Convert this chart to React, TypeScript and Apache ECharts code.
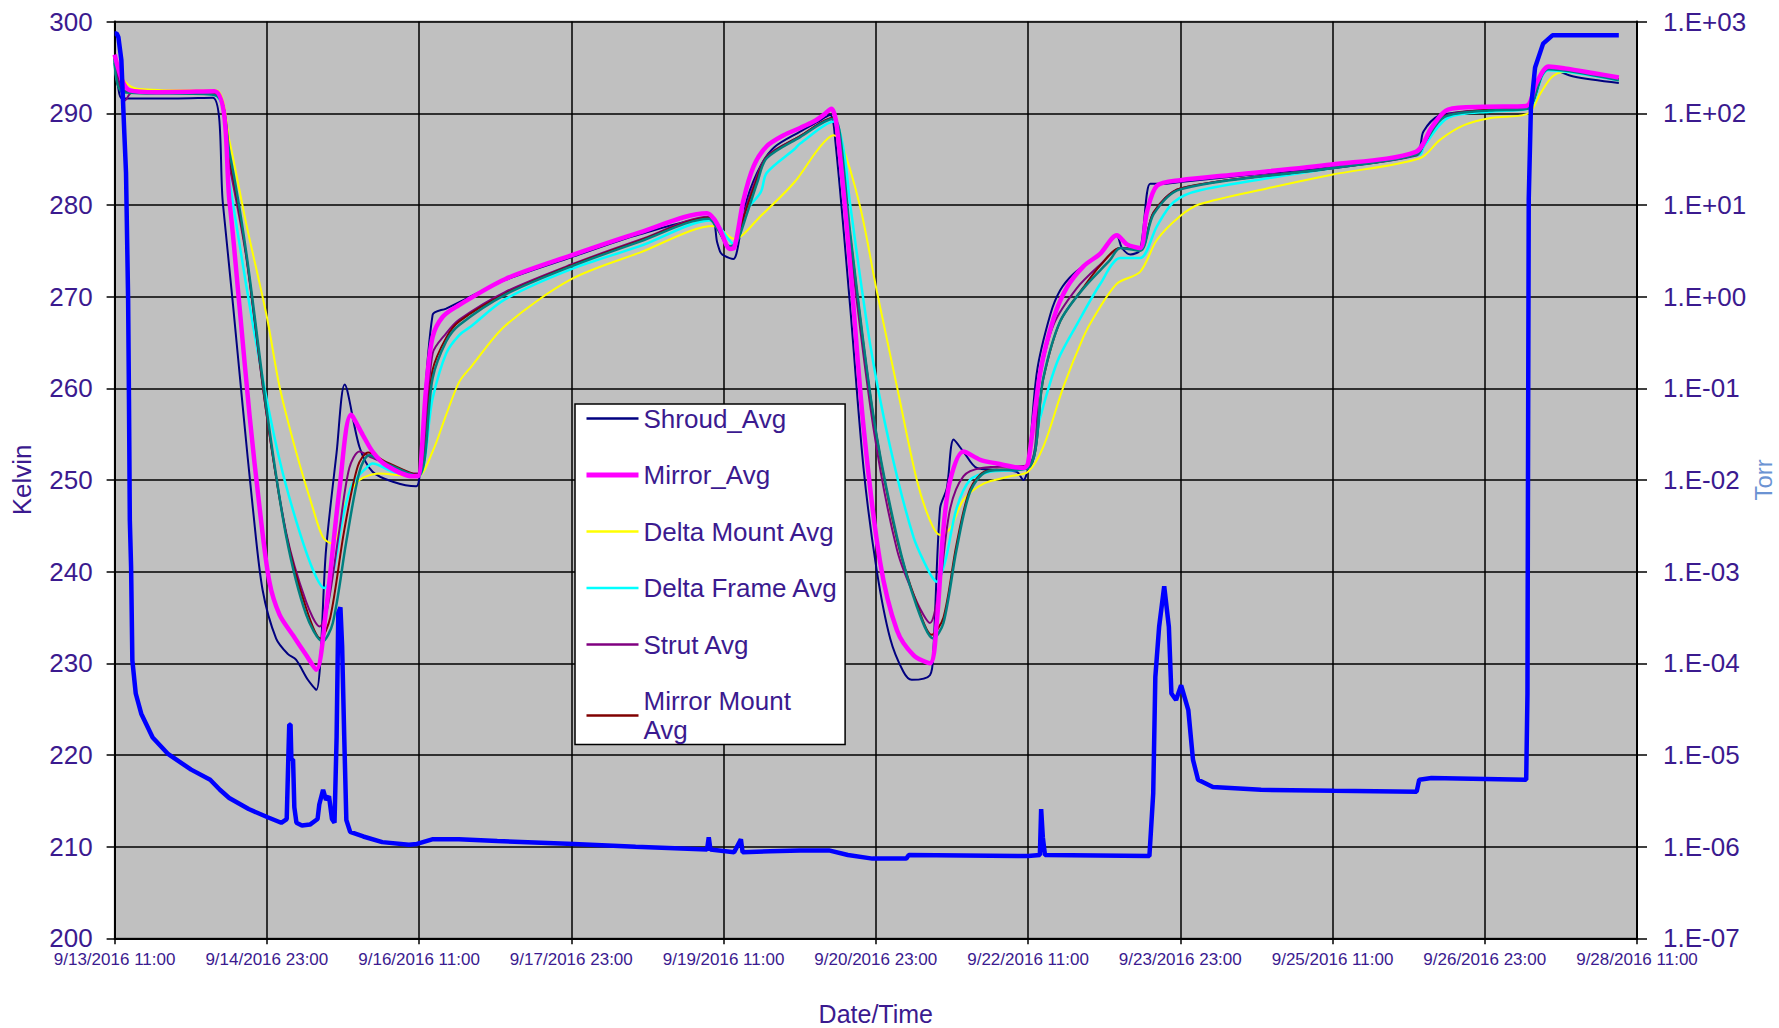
import React, { useEffect, useRef } from 'react';
import * as echarts from 'echarts';

// Hours since 9/13/2016 11:00
const xTickLabels = [
  '9/13/2016 11:00', '9/14/2016 23:00', '9/16/2016 11:00', '9/17/2016 23:00',
  '9/19/2016 11:00', '9/20/2016 23:00', '9/22/2016 11:00', '9/23/2016 23:00',
  '9/25/2016 11:00', '9/26/2016 23:00', '9/28/2016 11:00',
];
const torrTickLabels = [
  '1.E-07', '1.E-06', '1.E-05', '1.E-04', '1.E-03', '1.E-02',
  '1.E-01', '1.E+00', '1.E+01', '1.E+02', '1.E+03',
];
const legendNames = ['Shroud_Avg', 'Mirror_Avg', 'Delta Mount Avg', 'Delta Frame Avg', 'Strut Avg', 'Mirror Mount Avg'];

const shroudAvg = [
  [0, 295.5], [0.8, 293], [1.8, 291.6], [10, 291.6], [23.2, 291.7], [25.6, 280.2], [28, 269.1], [30.3, 258],
  [32.7, 246.9], [35, 238], [38.2, 232.7], [41, 231], [42.9, 230.4], [45.7, 228.2], [47.7, 227.1], [50, 242.4],
  [52.5, 253], [54.4, 260.4], [57.9, 253.6], [61, 250.9], [65.8, 249.8], [71.3, 249.3], [72.1, 250.4], [75.2, 268],
  [78.4, 268.7], [81.5, 269.4], [92.3, 271.8], [108, 274.3], [124.2, 276.8], [140.9, 278.6], [142.5, 275.9],
  [143.3, 274.8], [144, 274.5], [146.3, 274.1], [148, 277], [149.6, 280.7], [152.8, 284.3], [156, 286.3],
  [162.1, 288], [166, 289], [169.2, 289.8], [170.4, 287.1], [173.9, 269.1], [177.1, 251.3], [180.2, 240.2],
  [183.4, 232.7], [186.5, 229.1], [188.5, 228.2], [192.8, 228.7], [193.6, 231.3], [195.2, 246.9], [196.8, 249.1],
  [198.4, 254.4], [200.7, 253.1], [203.9, 251.3], [208.6, 251.1], [213.3, 250.9], [214.9, 250], [216, 251.3],
  [218.1, 261.8], [221.3, 268.1], [223.6, 270.7], [226.8, 272.5], [233.1, 274.7], [237, 276.6], [238.2, 275.3],
  [240.2, 274.6], [242.5, 275.1], [244.9, 282.3], [247.3, 282.3], [252, 282.5], [264.6, 283.1], [287.8, 284.2],
  [307.9, 285.7], [309.5, 288], [313, 289.7], [320, 290.2], [333.8, 290.6], [336.2, 293], [339.1, 294.9],
  [345, 294], [355.7, 293.3],
];
const mirrorAvg = [
  [0, 296.4], [1.8, 293.6], [3.6, 292.5], [10, 292.3], [23.6, 292.4], [27.2, 280.2], [29.5, 269.1], [31.9, 257.1],
  [34.3, 246.9], [36.6, 238.9], [39, 235.3], [42.1, 233.1], [45.3, 230.9], [47.7, 229.3], [50, 235.8], [53.2, 249.1],
  [55.9, 257.1], [58.7, 254.9], [61, 253.1], [64.2, 251.6], [70.5, 250.4], [71.7, 250.4], [73.7, 260.2], [75.2, 265.6],
  [77.6, 267.8], [81.2, 269], [92.3, 271.9], [108, 274.5], [124.2, 277], [140.1, 279.1], [141.7, 278.5],
  [143.2, 277.3], [145.5, 275.2], [146.5, 275.3], [148.7, 280.5], [151.1, 284.2], [154.2, 286.4], [158.2, 287.6],
  [162.1, 288.4], [165.3, 289.1], [167.6, 289.8], [169.5, 290.5], [170.8, 288.5], [173.9, 273.6], [177.1, 255.8],
  [181, 241.1], [185, 233.6], [188.9, 230.9], [192.8, 230], [194.4, 234.4], [196, 244.7], [197.6, 250],
  [200.7, 253.1], [204.7, 252.2], [208.6, 251.8], [214.9, 251.3], [216, 251.8], [218.9, 261.8], [222.1, 267.7],
  [225.2, 271], [229.1, 273.3], [233.1, 274.7], [237, 276.7], [239.4, 275.7], [242.5, 275.3], [244.1, 279.2],
  [246.5, 282.1], [252, 282.7], [264.6, 283.3], [287.8, 284.4], [307.7, 285.8], [311.5, 288.5], [315.3, 290.4],
  [323.8, 290.7], [333.8, 290.8], [336.2, 293.3], [339.1, 295.1], [342.9, 294.9], [349.5, 294.4], [355.7, 293.9],
];
const deltaMountAvg = [
  [0, 296], [1.8, 293.8], [5, 292.7], [15, 292.5], [24, 292.5], [27.2, 286.9], [31.1, 278], [36, 267.8],
  [39, 260.2], [42.9, 253.1], [46.9, 246.9], [49.2, 243.8], [51.2, 243.1], [52.8, 244], [54.8, 247.8], [57.9, 250],
  [62.6, 250.7], [67.4, 250.5], [71.7, 250.4], [75.2, 253.1], [78.4, 257.1], [81.5, 260.7], [84.4, 262.4],
  [92.3, 266.8], [108, 271.9], [124.2, 274.8], [141.7, 277.7], [146.5, 276.3], [152.8, 278.8], [160.8, 282.5],
  [166.4, 286.1], [170, 287.6], [171.6, 287.1], [176.3, 279.8], [180.2, 270.7], [185, 260.2], [189.7, 250],
  [192.8, 245.6], [195.2, 244], [197.6, 244.7], [200.7, 247.8], [205.5, 249.6], [211.8, 250.4], [216, 250.9],
  [219.6, 253.6], [224.4, 260.2], [229.1, 265.6], [231.5, 267.7], [237, 271.4], [242.5, 272.7], [246.5, 276.2],
  [252, 278.8], [256.7, 280.1], [272.5, 281.8], [287.8, 283.3], [308.7, 285.1], [313.4, 287.1], [319.1, 288.7],
  [325.7, 289.5], [334.3, 290], [337.2, 292.2], [340, 294], [342.9, 294.5], [355.7, 293.6],
];
const deltaFrameAvg = [
  [0, 296], [2, 292.5], [23.6, 292], [27.2, 282.4], [31.1, 271.3], [35, 261.1], [39, 252.2], [42.9, 245.6],
  [46.9, 240.2], [49.6, 238.2], [51.6, 239.8], [54, 246], [56.3, 249.6], [59.5, 251.3], [61, 251.8], [65.8, 250.9],
  [71.7, 250.4], [75.2, 258.9], [78.4, 263.8], [81.5, 265.8], [84.4, 266.8], [92.3, 269.7], [108, 273],
  [124.2, 275.5], [140.9, 278.3], [146.5, 275.7], [148.7, 279], [152.8, 281.4], [154.2, 283.5], [160.8, 286.1],
  [162.1, 286.7], [170, 289.1], [172.4, 286], [173.9, 280.2], [178.7, 264.7], [183.4, 253.6], [188.9, 243.8],
  [192.8, 239.8], [194.4, 238.9], [196.4, 241.1], [199.1, 246.9], [202.3, 250], [207, 250.9], [216, 251.3],
  [218.8, 256.7], [223, 263], [227.6, 267], [233.1, 271.4], [237.8, 274.2], [242.5, 274.2], [246.5, 277.7],
  [250.4, 280.3], [256.7, 281.6], [287.8, 284], [308.7, 285.5], [309.6, 286.4], [315.3, 289.5], [325.7, 290.2],
  [334.3, 290.5], [339.1, 294.7], [355.7, 293.6],
];
const strutAvg = [
  [0, 296], [1.5, 292.5], [2.5, 291.4], [4, 292.2], [23.6, 292.2], [27.2, 284.2], [31.1, 274.4], [35.8, 257.6],
  [40.6, 244.2], [45.3, 236.7], [48.5, 234], [50.4, 236.2], [53.2, 244.7], [55.5, 251.3], [57.9, 253.1], [61, 252.4],
  [70.5, 250.7], [72.1, 250.7], [75.2, 263.8], [78.4, 266], [81.5, 267.5], [92.3, 270.5], [108, 273.5],
  [124.2, 276.2], [140.5, 278.7], [142, 278], [145.5, 275.3], [146.5, 275.4], [148.5, 278.5], [151, 282],
  [154.2, 285.3], [162.1, 287.5], [170, 289.5], [171, 288.5], [173.9, 275.8], [179.4, 255.8], [185, 242.4],
  [189.7, 236.7], [192.8, 234.4], [195.2, 238.9], [197.6, 246.9], [200.7, 250.4], [205, 251.3], [216, 251.6],
  [218.8, 261.1], [222, 266.9], [227.5, 270.9], [233.1, 273.5], [237.8, 275.3], [242.5, 275.1], [245.7, 279.2],
  [252, 281.8], [287.8, 284], [307.9, 285.4], [309.5, 286.5], [314, 289.6], [325, 290.4], [334, 290.5],
  [339.1, 294.9], [355.7, 293.7],
];
const mirrorMountAvg = [
  [0, 296], [2, 292.4], [23.6, 292.2], [27.2, 285], [31.1, 274.6], [36, 257], [40.6, 244], [45.3, 236],
  [48.7, 232.7], [51, 235], [54.3, 244.5], [57.5, 251.5], [60, 253], [64, 252], [71.7, 250.5], [75.2, 262],
  [78.4, 265.5], [81.5, 267.3], [92.3, 270.3], [108, 273.4], [124.2, 276.1], [140.5, 278.6], [142.5, 277.5],
  [145.5, 275.4], [146.8, 275.6], [149, 279], [151.5, 282.3], [154.2, 285.2], [162.1, 287.5], [170, 289.5],
  [171.2, 288], [173.9, 276.8], [179.4, 257], [185, 243.5], [189.7, 236.5], [193.2, 233.1], [196, 235],
  [199.1, 243], [202.3, 249], [206.2, 251], [216, 251.3], [219.6, 261], [223.6, 267.3], [229.1, 271],
  [233.1, 273.4], [237.8, 275.3], [242.5, 275.1], [245.7, 279.2], [252, 281.8], [287.8, 284], [307.9, 285.5],
  [310, 287], [314, 289.6], [325, 290.4], [334, 290.5], [339.1, 294.9], [355.7, 293.7],
];
const tealAvg = [
  [0, 296], [2, 292.3], [23.6, 292], [27.2, 285.6], [31.1, 274.9], [36, 257.5], [40.6, 243.8], [45.3, 235.3],
  [49.2, 232.4], [51.6, 234.4], [54.8, 243.3], [57.9, 250.9], [60.2, 252.7], [64.2, 251.8], [71.7, 250.4],
  [75.2, 261.1], [78.4, 265.1], [81.5, 266.9], [92.3, 270.2], [108, 273.3], [124.2, 276], [140.5, 278.5],
  [142.5, 277.4], [145.5, 275.5], [147, 275.8], [149.5, 279], [152, 282.5], [154.2, 285.1], [162.1, 287.4],
  [170, 289.4], [171.5, 287.8], [173.9, 277.1], [179.4, 257.1], [185, 243.8], [189.7, 236.2], [193.6, 232.7],
  [196, 234.4], [199.1, 242.4], [202.3, 248.7], [206.2, 250.9], [216, 251.3], [219.6, 261.1], [223.6, 267.3],
  [229.1, 270.9], [235.4, 274], [237.8, 275.3], [242.5, 275], [245.7, 279], [252, 281.7], [287.8, 284],
  [307.9, 285.5], [310, 287], [314.5, 289.6], [325, 290.3], [334, 290.5], [339.1, 294.8], [355.7, 293.6],
];
// Chamber pressure, Torr
const pressureTorr = [
  [0, 741], [0.5, 741], [0.9, 676], [1.6, 380], [2.3, 60.3], [2.7, 22.4], [3.2, 0.912], [3.4, 0.0741],
  [3.6, 3.63e-3], [3.9, 1.12e-3], [4.2, 1.07e-4], [5, 4.68e-5], [6.3, 2.82e-5], [9, 1.55e-5], [12.7, 1.02e-5],
  [18.1, 6.92e-6], [22.6, 5.37e-6], [24.9, 4.17e-6], [27.1, 3.39e-6], [31.7, 2.57e-6], [36.2, 2.09e-6],
  [39.4, 1.82e-6], [40.7, 2.0e-6], [41.1, 1.0e-5], [41.3, 2.14e-5], [41.6, 2.14e-5], [41.8, 8.9e-6],
  [42.2, 8.9e-6], [42.5, 2.69e-6], [43, 1.82e-6], [44.3, 1.7e-6], [46.2, 1.74e-6], [48, 2.0e-6], [48.4, 2.88e-6],
  [49.3, 4.17e-6], [50, 3.24e-6], [50.7, 3.55e-6], [51.4, 2.0e-6], [52, 1.82e-6], [52.5, 1.58e-5],
  [52.9, 3.55e-4], [53.4, 4.07e-4], [53.8, 1.55e-4], [54.3, 1.58e-5], [54.8, 1.95e-6], [55.7, 1.45e-6],
  [58.8, 1.29e-6], [63.3, 1.12e-6], [69.6, 1.05e-6], [71.5, 1.07e-6], [75.1, 1.2e-6], [81.4, 1.2e-6],
  [90.5, 1.15e-6], [108.6, 1.07e-6], [123.2, 1.0e-6], [140.1, 9.3e-7], [140.5, 1.26e-6], [140.9, 9.3e-7],
  [146.5, 8.7e-7], [148.1, 1.2e-6], [148.5, 8.7e-7], [155, 8.9e-7], [162.1, 9.1e-7], [168.9, 9.1e-7],
  [173.4, 8.1e-7], [179.2, 7.4e-7], [187.2, 7.4e-7], [187.8, 8.1e-7], [216, 7.9e-7], [218.8, 8.1e-7],
  [219.1, 2.57e-6], [219.5, 1.26e-6], [220, 8.1e-7], [244.7, 7.9e-7], [245.6, 3.8e-6], [246.1, 7.08e-5],
  [247, 2.51e-4], [248.2, 6.92e-4], [249.3, 2.51e-4], [249.9, 4.68e-5], [251, 3.98e-5], [252.2, 5.75e-5],
  [253.9, 3.09e-5], [255, 8.9e-6], [256.2, 5.37e-6], [259.7, 4.47e-6], [271.1, 4.17e-6], [288.4, 4.07e-6],
  [307.9, 3.98e-6], [308.5, 5.37e-6], [311.4, 5.62e-6], [333.8, 5.37e-6], [334.1, 4.68e-5], [334.2, 3.98e-3],
  [334.4, 11.5], [334.9, 110], [335.9, 316], [337.8, 575], [340, 708], [355.7, 708],
];

const TEXT = '#3b1a8f';
const FONT = '"Liberation Sans", Arial, sans-serif';

export default function App() {
  const ref = useRef<HTMLDivElement>(null);
  useEffect(() => {
    if (!ref.current) return;
    const chart = echarts.init(ref.current, undefined, { renderer: 'svg' });
    const tempLine = (name: string, data: number[][], color: string, width: number) => ({
      name, type: 'line', data, yAxisIndex: 0, symbol: 'none', showSymbol: false,
      smooth: 0.3,
      lineStyle: { color, width }, itemStyle: { color },
    });
    chart.setOption({
      animation: false,
      backgroundColor: '#ffffff',
      textStyle: { fontFamily: FONT },
      grid: {
        left: 114.6, right: 142, top: 21.6, bottom: 89.7,
        outerBoundsMode: 'none', containLabel: false,
        show: true, backgroundColor: '#c0c0c0', borderColor: '#7f7f7f', borderWidth: 1.5,
      },
      legend: {
        data: legendNames.map((n) => (n === 'Mirror_Avg' ? { name: n, lineStyle: { width: 5 } } : { name: n })),
        orient: 'vertical', left: 575, top: 404,
        itemWidth: 52, itemHeight: 14, itemGap: 27.5,
        padding: [0, 7, 0, 9],
        backgroundColor: '#ffffff', borderColor: '#000000', borderWidth: 1.5,
        itemStyle: { color: 'rgba(0,0,0,0)', borderWidth: 0, opacity: 0 },
        lineStyle: { width: 2.5 },
        formatter: (n: string) => (n === 'Mirror Mount Avg' ? 'Mirror Mount\nAvg' : n),
        textStyle: { fontSize: 26, color: TEXT, fontFamily: FONT, lineHeight: 29 },
        selectedMode: false,
      },
      xAxis: {
        type: 'value', min: 0, max: 360, interval: 36,
        name: 'Date/Time', nameLocation: 'middle', nameGap: 63,
        nameTextStyle: { fontSize: 25, color: TEXT, fontFamily: FONT },
        axisLine: { show: true, onZero: false, lineStyle: { color: '#000', width: 2 } },
        axisTick: { show: true, length: 6, lineStyle: { color: '#000', width: 1.5 } },
        axisLabel: {
          margin: 13, fontSize: 17, color: TEXT, fontFamily: FONT, showMinLabel: true, showMaxLabel: true,
          formatter: (v: number) => xTickLabels[Math.round(v / 36)] ?? '',
        },
        splitLine: { show: true, lineStyle: { color: '#000', width: 1.5 } },
      },
      yAxis: [
        {
          type: 'value', min: 200, max: 300, interval: 10, position: 'left',
          name: 'Kelvin', nameLocation: 'middle', nameGap: 80, nameRotate: 90,
          nameTextStyle: { fontSize: 26, color: TEXT, fontFamily: FONT },
          axisLine: { show: true, lineStyle: { color: '#000', width: 2 } },
          axisTick: { show: true, length: 8, lineStyle: { color: '#000', width: 1.5 } },
          axisLabel: { margin: 22, fontSize: 26, lineHeight: 24, color: TEXT, fontFamily: FONT },
          splitLine: { show: true, lineStyle: { color: '#000', width: 1.5 } },
        },
        {
          type: 'log', logBase: 10, min: 1e-7, max: 1e3, interval: 1, splitNumber: 10, position: 'right',
          name: 'Torr', nameLocation: 'middle', nameGap: 114, nameRotate: 90, nameMoveOverlap: false,
          nameTextStyle: { fontSize: 24, color: '#6b93d3', fontFamily: FONT },
          axisLine: { show: true, lineStyle: { color: '#000', width: 2 } },
          axisTick: { show: true, length: 10, lineStyle: { color: '#000', width: 1.5 } },
          axisLabel: {
            margin: 26, fontSize: 26, color: TEXT, fontFamily: FONT,
            formatter: (v: number) => torrTickLabels[Math.round(Math.log10(v)) + 7] ?? '',
          },
          splitLine: { show: false },
          minorTick: { show: false },
        },
      ],
      series: [
        tempLine('Shroud_Avg', shroudAvg, '#000080', 2),
        tempLine('Delta Mount Avg', deltaMountAvg, '#ffff00', 2),
        tempLine('Delta Frame Avg', deltaFrameAvg, '#00ffff', 2.5),
        tempLine('Strut Avg', strutAvg, '#800080', 2),
        tempLine('Mirror Mount Avg', mirrorMountAvg, '#800000', 2),
        tempLine('Series7', tealAvg, '#008080', 2.5),
        tempLine('Mirror_Avg', mirrorAvg, '#ff00ff', 4.5),
        {
          name: 'Pressure', type: 'line', data: pressureTorr, yAxisIndex: 1,
          symbol: 'none', showSymbol: false, smooth: false,
          lineStyle: { color: '#0000ff', width: 4.5 }, itemStyle: { color: '#0000ff' },
        },
      ],
    });
    return () => chart.dispose();
  }, []);
  return (
    <div
      ref={ref}
      style={{ position: 'absolute', left: 0, top: 0, width: 1779, height: 1028, background: '#fff' }}
    />
  );
}
